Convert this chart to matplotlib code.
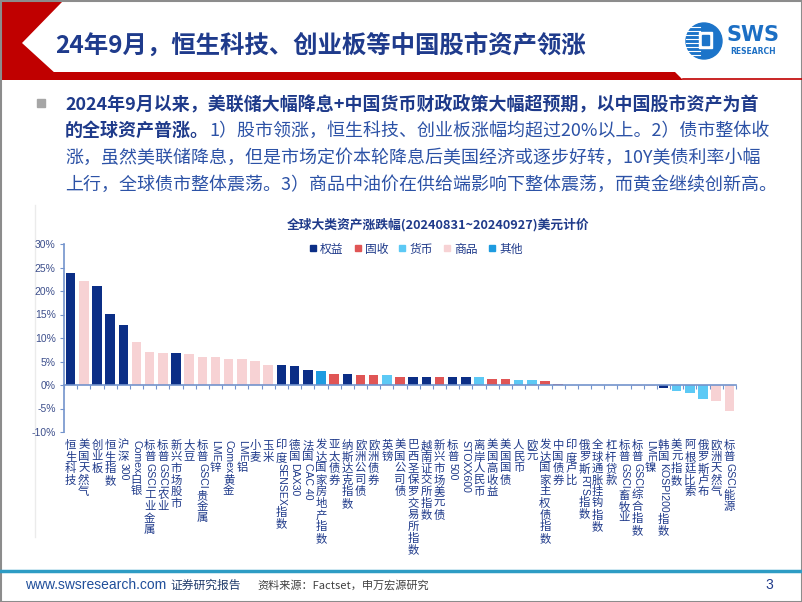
import re
import numpy as np
import matplotlib
matplotlib.use('Agg')
import matplotlib.pyplot as plt
from matplotlib.patches import Polygon, Rectangle, Circle
from matplotlib.lines import Line2D

plt.rcParams['font.family'] = ['Noto Sans CJK SC', 'DejaVu Sans']

# 资产名称、涨跌幅(%)、大类
names = ['恒生科技', '美国天然气', '创业板', '恒生指数', '沪深300', 'Comex白银',
         '标普GSCI工业金属', '标普GSCI农业', '新兴市场股市', '大豆', '标普GSCI贵金属',
         'LME锌', 'Comex黄金', 'LME铝', '小麦', '玉米', '印度SENSEX指数', '德国DAX30',
         '法国CAC 40', '发达国家房地产指数', '亚太债券', '纳斯达克指数', '欧洲公司债',
         '欧洲债券', '英镑', '美国公司债', '巴西圣保罗交易所指数', '越南证交所指数',
         '新兴市场美元债', '标普500', 'STOXX600', '离岸人民币', '美国高收益', '美国国债',
         '人民币', '欧元', '发达国家主权债指数', '中国债券', '印度卢比', '俄罗斯RTS指数',
         '全球通胀挂钩指数', '杠杆贷款', '标普GSCI畜牧业', '标普GSCI综合指数', 'LME镍',
         '韩国KOSPI200指数', '美元指数', '阿根廷比索', '俄罗斯卢布', '欧洲天然气',
         '标普GSCI能源']
values = [23.8, 22.2, 21.1, 15.2, 12.7, 9.2, 7.1, 6.8, 6.8, 6.6, 5.9,
          5.9, 5.6, 5.6, 5.2, 4.2, 4.2, 4.0, 3.2, 2.9, 2.4, 2.3, 2.1,
          2.1, 2.1, 1.7, 1.7, 1.7, 1.6, 1.6, 1.6, 1.6, 1.2, 1.2,
          1.0, 1.0, 0.8, 0.3, 0.1, 0.0, 0.0, 0.0, -0.05, -0.3, -0.3,
          -0.7, -1.3, -1.8, -2.9, -3.4, -5.5]
groups = ['权益', '商品', '权益', '权益', '权益', '商品', '商品', '商品', '权益', '商品', '商品',
          '商品', '商品', '商品', '商品', '商品', '权益', '权益', '权益', '其他', '固收', '权益',
          '固收', '固收', '货币', '固收', '权益', '权益', '固收', '权益', '权益', '货币', '固收',
          '固收', '货币', '货币', '固收', '固收', '货币', '权益', '固收', '固收', '商品', '商品',
          '商品', '权益', '货币', '货币', '货币', '商品', '商品']

legend_names = ['权益', '固收', '货币', '商品', '其他']
group_colors = {'权益': '#0B2E86', '固收': '#E05555', '货币': '#5CC9F5',
                '商品': '#F7D2D4', '其他': '#1E9BE0'}
yticks = [-10, -5, 0, 5, 10, 15, 20, 25, 30]

title = '24年9月，恒生科技、创业板等中国股市资产领涨'
chart_title = '全球大类资产涨跌幅(20240831~20240927)美元计价'
body_bold1 = '2024年9月以来，美联储大幅降息+中国货币财政政策大幅超预期，以中国股市资产为首'
body_bold2 = '的全球资产普涨。'
body_lines = ['1）股市领涨，恒生科技、创业板涨幅均超过20%以上。2）债市整体收',
              '涨，虽然美联储降息，但是市场定价本轮降息后美国经济或逐步好转，10Y美债利率小幅',
              '上行，全球债市整体震荡。3）商品中油价在供给端影响下整体震荡，而黄金继续创新高。']

navy = '#1F3A8A'
axis_color = '#7393CC'

fig = plt.figure(figsize=(8.02, 6.02), dpi=100)
renderer = fig.canvas.get_renderer()

deco = fig.add_axes([0, 0, 1, 1], zorder=0)
deco.set_xlim(0, 802)
deco.set_ylim(602, 0)
deco.axis('off')

# 页眉
deco.add_patch(Polygon([(0, 2), (62, 2), (22, 43), (56, 74), (0, 74)], color='#C00000', lw=0))
deco.add_patch(Polygon([(0, 72), (675, 72), (683, 80), (0, 80)], color='#C00000', lw=0))
deco.plot([683, 802], [79, 79], color='#C00000', lw=1.2)
deco.text(55, 45, title, fontsize=17.6, weight='bold', color='#1F3B8C', va='center')

# logo
deco.add_patch(Circle((704, 41), 18, color='#1C74C9'))
for yy in range(27, 58, 4):
    deco.plot([686, 700], [yy, yy], color='white', lw=0.8)
deco.add_patch(Rectangle((699, 32), 13, 16, color='white'))
deco.add_patch(Rectangle((702, 35), 7, 10, color='#1C74C9'))
deco.text(726, 35, 'SWS', fontsize=15, weight='bold', color='#1C6FC4', va='center',
          family='DejaVu Sans')
deco.text(730, 52, 'RESEARCH', fontsize=5.5, weight='bold', color='#1C6FC4', va='center',
          family='DejaVu Sans')

# 正文
body_size = 12.95
deco.add_patch(Rectangle((37, 99), 8, 8, color='#A6A6A6'))
deco.text(65, 104, body_bold1, fontsize=body_size, weight='bold', color='#1E3A8A', va='center')
t = deco.text(65, 131, body_bold2, fontsize=body_size, weight='bold', color='#1E3A8A',
              va='center')
x2 = t.get_window_extent(renderer).x1
deco.text(x2, 131, body_lines[0], fontsize=body_size, color='#2C52A6', va='center')
deco.text(65, 158, body_lines[1], fontsize=body_size, color='#2C52A6', va='center')
deco.text(65, 185, body_lines[2], fontsize=body_size, color='#2C52A6', va='center')

# 图表框
deco.plot([35, 35], [205, 537], color='#EBEBEB', lw=1)
deco.text(438, 225, chart_title, fontsize=9.2, weight='bold', color=navy, ha='center',
          va='center')

ax = fig.add_axes([64 / 802, 1 - 432 / 602, 672 / 802, 188 / 602], zorder=2)
ax.patch.set_alpha(0)
x = np.arange(len(names))
ax.bar(x, values, width=0.72, color=[group_colors[g] for g in groups], zorder=2)
ax.set_xlim(-0.5, len(names) - 0.5)
ax.set_ylim(-10, 30)
ax.set_yticks(yticks)
ax.set_yticklabels([f'{v}%' for v in yticks], family='Liberation Sans')
ax.set_xticks(np.arange(-0.5, len(names)))
ax.set_xticklabels([])
ax.spines['top'].set_visible(False)
ax.spines['right'].set_visible(False)
ax.spines['bottom'].set_position(('data', 0))
ax.spines['bottom'].set_color(axis_color)
ax.spines['left'].set_color(axis_color)
ax.spines['bottom'].set_linewidth(1.2)
ax.spines['left'].set_linewidth(1.2)
ax.tick_params(axis='y', length=3, color=axis_color, labelsize=7.5, labelcolor='#3D4F8C', pad=3)
ax.tick_params(axis='x', length=3, color=axis_color, direction='out')

handles = [Line2D([], [], marker='s', linestyle='none', markersize=4,
                  color=group_colors[g]) for g in legend_names]
fig.legend(handles, legend_names, loc='center', bbox_to_anchor=(416 / 802, 1 - 249 / 602),
           ncol=5, frameon=False, fontsize=8.5, handlelength=0.6, handletextpad=0.3,
           columnspacing=0.9, labelcolor=navy)

# 竖排分类标签
char_step = 11.6
for i, name in enumerate(names):
    px = ax.transData.transform((i, 0))[0]
    y = 440
    for part in re.findall(r'[A-Za-z0-9 ]+|.', name):
        if part.isascii():
            tt = deco.text(px, y, part, rotation=-90, ha='center', va='top', fontsize=7.6,
                           color=navy, family='Liberation Sans')
            y += tt.get_window_extent(renderer).height + 1
        else:
            deco.text(px, y, part, ha='center', va='top', fontsize=8.2, color=navy)
            y += char_step

# 页脚
deco.plot([0, 802], [571, 571], color='#2E9CC4', lw=2.5)
deco.text(25, 585, 'www.swsresearch.com', fontsize=10, color='#1F4E9A', va='center',
          family='Liberation Sans')
deco.text(170, 585, '证券研究报告', fontsize=8.5, color='#1F3A6A', va='center')
deco.text(257, 585, '资料来源：Factset，申万宏源研究', fontsize=8, color='#404040', va='center')
deco.text(765, 585, '3', fontsize=10, color='#1F3A8A', va='center', family='Liberation Sans')

deco.add_patch(Rectangle((0.5, 0.5), 801, 601, fill=False, edgecolor='#8C8C8C', lw=1.5))

fig.savefig('out.png', dpi=100)
